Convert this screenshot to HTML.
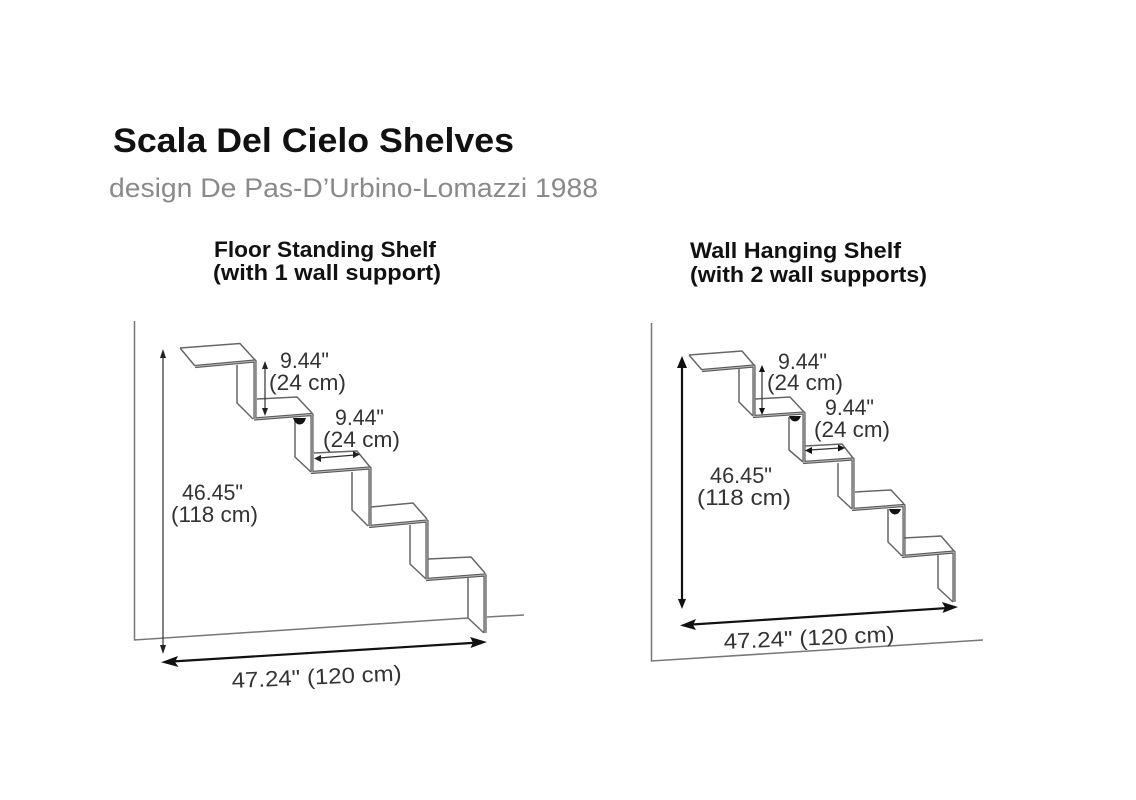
<!DOCTYPE html>
<html><head><meta charset="utf-8"><style>
html,body{margin:0;padding:0;background:#fff}
svg{display:block}
text{font-family:"Liberation Sans",sans-serif}
.l{font-size:22px;fill:#333}
.h{font-size:22px;font-weight:bold;fill:#111}
.e{fill:none;stroke:#666;stroke-width:1.500;stroke-linejoin:round}
.f{fill:none;stroke:#5a5a5a;stroke-width:3.200;stroke-linejoin:round}
.g{fill:none;stroke:#bbb;stroke-width:1;stroke-linejoin:round}
.a{stroke:#333;stroke-width:1.200;fill:none}
.b{stroke:#111;stroke-width:2.200;fill:none}
</style></head><body>
<svg width="1136" height="800" viewBox="0 0 1136 800" xmlns="http://www.w3.org/2000/svg">
<rect width="1136" height="800" fill="#fff"/>
<text x="113" y="152" font-size="34" font-weight="bold" fill="#111" textLength="401" lengthAdjust="spacingAndGlyphs">Scala Del Cielo Shelves</text>
<text x="109" y="197" font-size="27" fill="#8a8a8a" textLength="489" lengthAdjust="spacingAndGlyphs">design De Pas-D’Urbino-Lomazzi 1988</text>
<text class="h" x="214" y="257" textLength="222" lengthAdjust="spacingAndGlyphs">Floor Standing Shelf</text>
<text class="h" x="213" y="280" textLength="228" lengthAdjust="spacingAndGlyphs">(with 1 wall support)</text>
<text class="h" x="690" y="258" textLength="211" lengthAdjust="spacingAndGlyphs">Wall Hanging Shelf</text>
<text class="h" x="690" y="282" textLength="237" lengthAdjust="spacingAndGlyphs">(with 2 wall supports)</text>

<!-- left walls -->
<path d="M134.500 321V640L468 618M487 617L524 615" fill="none" stroke="#777" stroke-width="1.500"/>
<!-- left shelf -->
<path class="e" d="M180 348L240 343.500L255 360M180 348L195 366"/>
<path class="f" d="M195 366.500L255 361V419M254 419L312 414.500V472M311 472.500L370 468V526M369 526.500L427 521V579M426 579.500L485 575V633"/>
<path class="g" d="M195 366.500L255 361V419M254 419L312 414.500V472M311 472.500L370 468V526M369 526.500L427 521V579M426 579.500L485 575V633"/>
<path class="e" d="M237 365V403L253 419M257 399L297 397L312 413M295 418V457L311 472M314 453L357 451L370 467M352 472V510L368 526M371 507L413 503L427 519M410 525V564L426 579M428 559L471 557L485 573M468 577V618L484 633"/>
<path d="M293 418H306Q304 425 299 424.500Q295 424 293 418Z" fill="#111"/>
<!-- left dims -->
<path class="a" d="M163 356V648M265 366V411M319 458L355 455"/>
<path d="M163 349L160 358H166ZM163 654L160 645H166ZM265 361L262 369H268ZM265 416L262 408H268ZM314 458.500L321 455V462ZM360 454.500L353 451V458Z" fill="#222"/>
<path class="b" d="M172 661.500L477 642.600"/>
<path d="M161 662.200L178 656L175 662L178.500 667ZM487 642L470 637L473 642.500L470.500 648Z" fill="#111"/>
<text class="l" x="280" y="368" textLength="49" lengthAdjust="spacingAndGlyphs">9.44"</text>
<text class="l" x="269" y="390" textLength="77" lengthAdjust="spacingAndGlyphs">(24 cm)</text>
<text class="l" x="335" y="425" textLength="49" lengthAdjust="spacingAndGlyphs">9.44"</text>
<text class="l" x="323" y="447" textLength="77" lengthAdjust="spacingAndGlyphs">(24 cm)</text>
<text class="l" x="182" y="500" textLength="61" lengthAdjust="spacingAndGlyphs">46.45"</text>
<text class="l" x="171" y="522" textLength="87" lengthAdjust="spacingAndGlyphs">(118 cm)</text>
<text class="l" transform="rotate(-2.500 232 688)" x="232" y="688" textLength="170" lengthAdjust="spacingAndGlyphs">47.24" (120 cm)</text>

<!-- right walls -->
<path d="M651.500 323V661L983 640" fill="none" stroke="#777" stroke-width="1.500"/>
<!-- right shelf -->
<path class="e" d="M689 355L742 351L754 365M689 355L702 370"/>
<path class="f" d="M702 370.500L754 366V416M753 416.500L804 413V462M803 462.500L853 459V509M852 509.500L904 505.500V556M902 556.500L954 552V602"/>
<path class="g" d="M702 370.500L754 366V416M753 416.500L804 413V462M803 462.500L853 459V509M852 509.500L904 505.500V556M902 556.500L954 552V602"/>
<path class="e" d="M739 369V402L753 416M755 399L790 397L804 412M789 417V450L803 462M805 446L842 444L853 458M838 463V496L852 509M855 492L891 490L904 504M888 509V542L902 556M904 538L941 536L954 551M938 554V588L953 602"/>
<path d="M789 416H801Q799 421.500 795 421.500Q791 421.500 789 416ZM889 509H901Q899 514.500 895 514.500Q891 514.500 889 509Z" fill="#111"/>
<!-- right dims -->
<path class="a" d="M762 370V410M810 450L840 448"/>
<path class="b" d="M682 366V600M692 624.500L948 608"/>
<path d="M762 365L759 372H765ZM762 415L759 408H765ZM805 450.500L812 447V454ZM845 448L838 444.500V451.500ZM682 356L677 368H687ZM682 609L678 599H686ZM680 625.500L696 619L693 625L696 630ZM958 607L942 602L945 607.500L942.500 613Z" fill="#111"/>
<text class="l" x="778" y="369" textLength="49" lengthAdjust="spacingAndGlyphs">9.44"</text>
<text class="l" x="767" y="390" textLength="76" lengthAdjust="spacingAndGlyphs">(24 cm)</text>
<text class="l" x="825" y="415" textLength="49" lengthAdjust="spacingAndGlyphs">9.44"</text>
<text class="l" x="814" y="437" textLength="76" lengthAdjust="spacingAndGlyphs">(24 cm)</text>
<text class="l" x="710" y="483" textLength="62" lengthAdjust="spacingAndGlyphs">46.45"</text>
<text class="l" x="697" y="505" textLength="94" lengthAdjust="spacingAndGlyphs">(118 cm)</text>
<text class="l" transform="rotate(-2.500 724 649)" x="724" y="649" textLength="171" lengthAdjust="spacingAndGlyphs">47.24" (120 cm)</text>
</svg>
</body></html>
